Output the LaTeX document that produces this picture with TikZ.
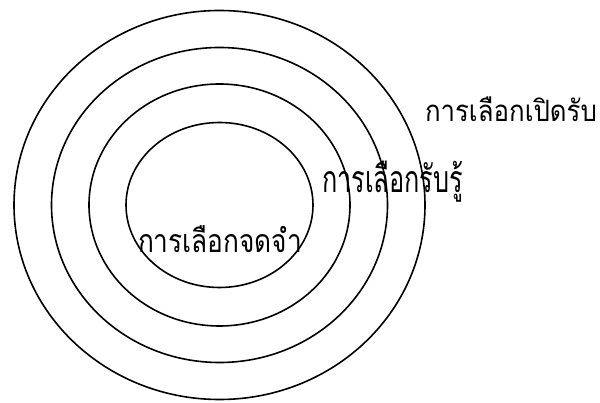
\documentclass[tikz,border=0pt]{standalone}
\usepackage{fontspec}
\newfontfamily\thaifont[Script=Thai]{Loma}
\newlength\fitw
\newlength\fith
\newcommand\fitthai[3]{%
  \settowidth\fitw{\thaifont #3}%
  \settoheight\fith{\thaifont กอ}%
  \pgfmathsetmacro\fitxs{#1/\fitw}%
  \pgfmathsetmacro\fitys{#2/\fith}%
  \scalebox{\fitxs}[\fitys]{\thaifont #3}}
\begin{document}
\begin{tikzpicture}[x=1pt,y=-1pt,
  ring/.style={draw=black,line width=1.6pt},
  lbl/.style={anchor=base west,inner sep=0pt,outer sep=0pt}]
\useasboundingbox (0,0) rectangle (600,403);
\coordinate (c) at (219.5,205);
\draw[ring] (c) ellipse [x radius=205.5, y radius=194.5];
\draw[ring] (c) ellipse [x radius=168, y radius=157.5];
\draw[ring] (c) ellipse [x radius=130.5, y radius=121];
\draw[ring] (c) ellipse [x radius=93.5, y radius=82.5];
\node[lbl] (open) at (425,122) {\fitthai{172pt}{16.5pt}{การเลือกเปิดรับ}};
\node[lbl] (perc) at (322,193) {\fitthai{141pt}{21pt}{การเลือกรับรู้}};
\node[lbl] (mem) at (138,253) {\fitthai{164pt}{18pt}{การเลือกจดจำ}};
\end{tikzpicture}
\end{document}
